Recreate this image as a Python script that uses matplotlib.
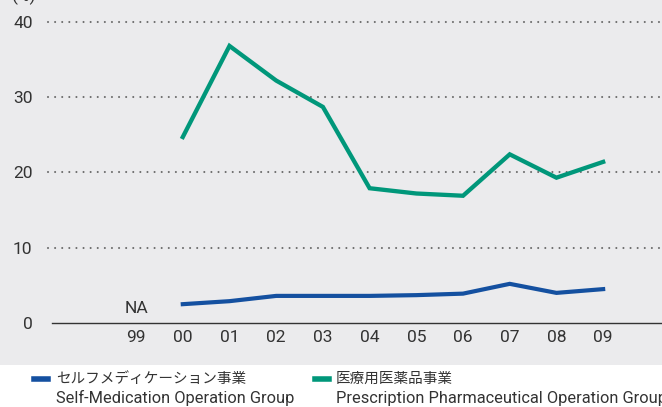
import matplotlib.pyplot as plt
from matplotlib.patches import FancyBboxPatch
from matplotlib.lines import Line2D

# data
years = ['99', '00', '01', '02', '03', '04', '05', '06', '07', '08', '09']
self_med = [None, 2.5, 2.9, 3.6, 3.6, 3.6, 3.7, 3.9, 5.2, 4.0, 4.5]
rx_pharma = [None, 24.7, 36.8, 32.2, 28.7, 17.9, 17.2, 16.9, 22.4, 19.3, 21.4]
yticks = [0, 10, 20, 30, 40]

blue = '#1450a0'
green = '#00977a'
panel = '#ebebed'
txt = '#333333'

plt.rcParams['font.family'] = ['Roboto', 'Noto Sans CJK JP', 'DejaVu Sans']

W, H = 662, 407
fig = plt.figure(figsize=(W / 100, H / 100), dpi=100)

# grey panel with rounded lower-left corner
bg = FancyBboxPatch((-30 / W, (H - 365) / H), (W + 60) / W, 2, boxstyle='round,pad=0,rounding_size=0.04',
                    transform=fig.transFigure, facecolor=panel, edgecolor='none', zorder=0,
                    mutation_aspect=H / W)
fig.patches.append(bg)

ax = fig.add_axes([52 / W, (H - 323) / H, (W - 52) / W, 323 / H])
ax.set_zorder(2)
ax.patch.set_visible(False)
x = list(range(len(years)))
ax.set_xlim(-1.8, 11.26)
ax.set_ylim(0, 42.9)

for s in ['top', 'right', 'left']:
    ax.spines[s].set_visible(False)
ax.spines['bottom'].set_color('#333333')
ax.spines['bottom'].set_linewidth(1.0)

# dotted grid, a bit wider than the axis on the left
for yv in yticks[1:]:
    gl = Line2D([48 / W, 1.0], [ax.transLimits.transform((0, yv))[1] * 323 / H + (H - 323) / H] * 2,
                transform=fig.transFigure, color='#6a6a6a', lw=1.5, ls=(0, (0.01, 3.4)),
                dash_capstyle='round', zorder=1)
    fig.add_artist(gl)

xs = x[1:]
ax.plot(xs, rx_pharma[1:], color=green, lw=3.1, solid_joinstyle='miter', zorder=3)
ax.plot(xs, self_med[1:], color=blue, lw=3.0, solid_joinstyle='miter', zorder=3)

ax.set_xticks(x)
ax.set_xticklabels(years)
ax.set_yticks(yticks)
ax.set_yticklabels([str(v) for v in yticks])
ax.tick_params(axis='x', length=0, pad=5, labelsize=12.5, colors=txt)
ax.tick_params(axis='y', length=0, pad=14, labelsize=12.5, colors=txt)

ax.text(0, 0.9, 'NA', ha='center', va='bottom', fontsize=12.5, color=txt)
fig.text(12 / W, 1 + 12 / H, '(%)', ha='left', va='top', fontsize=12.5, color=txt)

# legend
fig.add_artist(Line2D([34 / W, 48 / W], [(H - 379) / H] * 2, color=blue, lw=4, transform=fig.transFigure))
fig.add_artist(Line2D([315 / W, 329 / W], [(H - 379) / H] * 2, color=green, lw=4, transform=fig.transFigure))
fig.text(56 / W, (H - 379) / H, 'セルフメディケーション事業', ha='left', va='center', fontsize=10.5, color=txt)
fig.text(56 / W, (H - 398) / H, 'Self-Medication Operation Group', ha='left', va='center', fontsize=11.8, color=txt)
fig.text(336 / W, (H - 379) / H, '医療用医薬品事業', ha='left', va='center', fontsize=10.5, color=txt)
fig.text(336 / W, (H - 398) / H, 'Prescription Pharmaceutical Operation Group', ha='left', va='center', fontsize=11.8, color=txt)

fig.savefig('out.png', dpi=100, facecolor='white')
